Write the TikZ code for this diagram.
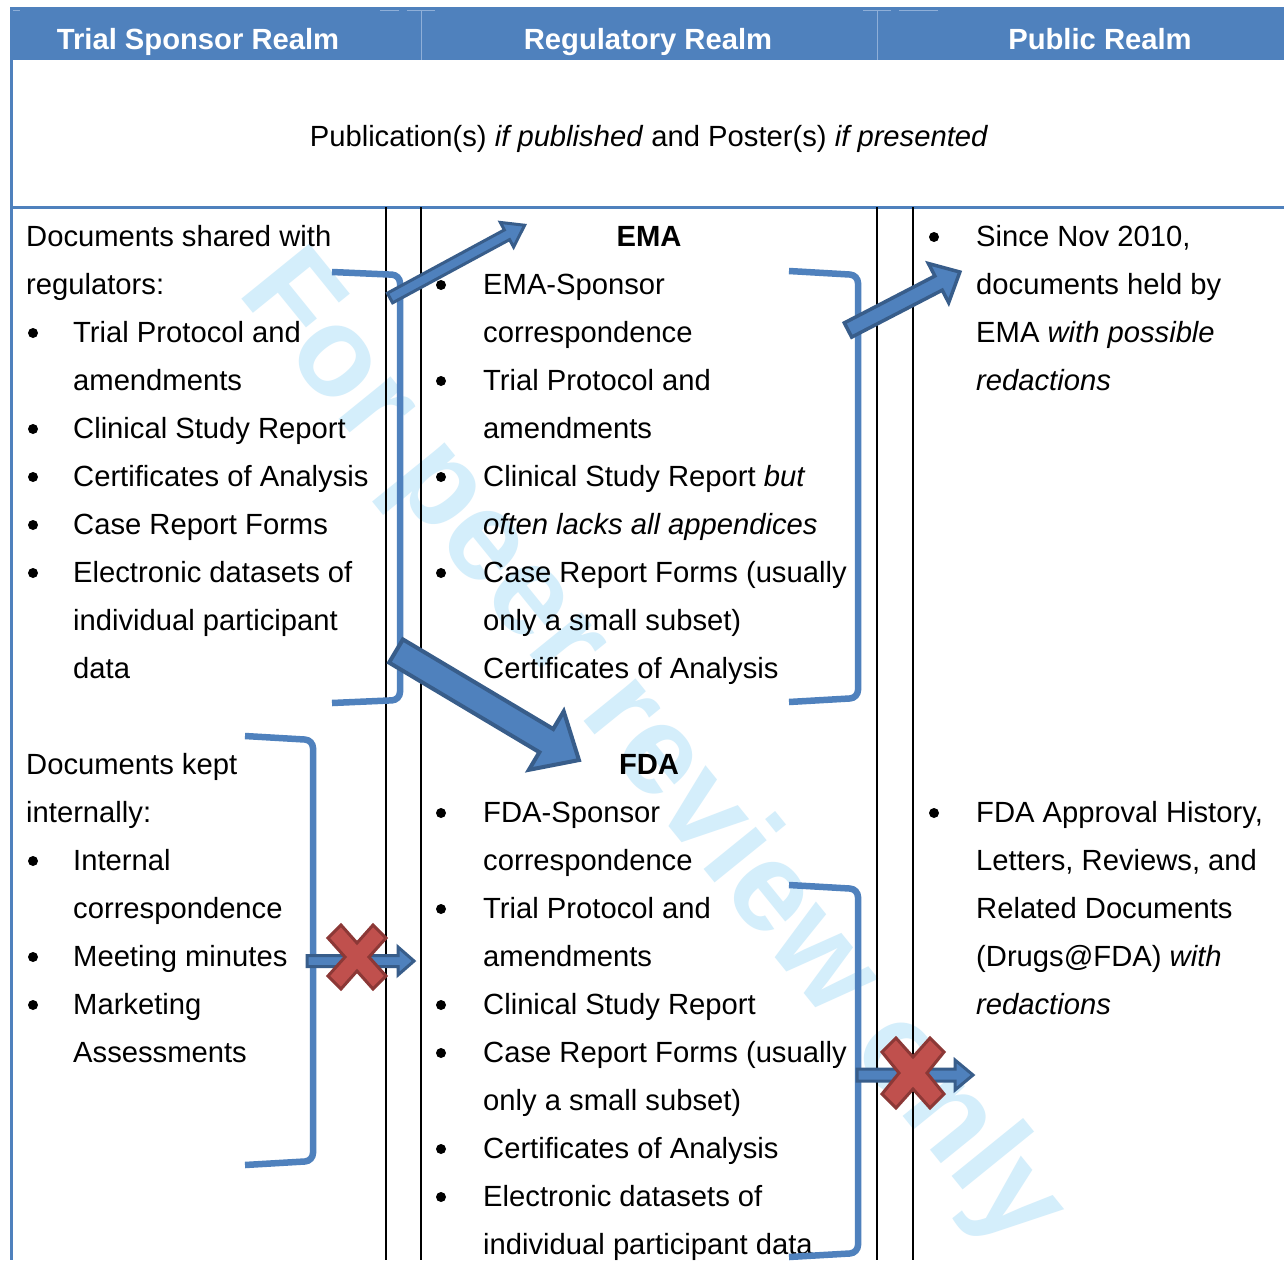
\documentclass[tikz,border=0pt]{standalone}
\usepackage{fontspec}
\setmainfont{Liberation Sans}
\definecolor{hdrblue}{HTML}{4F81BD}
\definecolor{arrowedge}{HTML}{385D8A}
\definecolor{xred}{HTML}{C0504D}
\definecolor{xedge}{HTML}{8C3836}
\definecolor{wmark}{RGB}{212,238,251}
\definecolor{faint}{HTML}{8FAFD8}
\begin{document}
\begin{tikzpicture}[x=1pt,y=-1pt,
  txt/.style={anchor=base west, inner sep=0pt, font=\fontsize{29.2}{35}\selectfont},
  ctxt/.style={anchor=base, inner sep=0pt, font=\fontsize{29.2}{35}\selectfont},
  btxt/.style={anchor=base, inner sep=0pt, font=\fontsize{29.2}{35}\selectfont\bfseries},
  hdr/.style={anchor=base, inner sep=0pt, text=white, font=\fontsize{29.2}{35}\selectfont\bfseries},
  bul/.style={fill=black, circle, inner sep=0pt, minimum size=10pt},
  brk/.style={draw=hdrblue, line width=6.5pt, rounded corners=8pt},
  barrow/.style={fill=hdrblue, draw=arrowedge, line width=3.5pt, line join=miter},
  xmark/.style={fill=xred, draw=xedge, line width=3pt, line join=miter},
  colline/.style={draw=black, line width=2pt},
  faintline/.style={draw=faint, line width=1pt}]
\useasboundingbox (0,0) rectangle (1284,1260);
\fill[white] (0,0) rectangle (1284,1260);
% watermark
\begin{scope}
\clip (0,0) rectangle (1284,1260);
\node[anchor=base west, inner sep=0pt, rotate=-51, text=wmark, font=\fontsize{127}{127}\selectfont\bfseries] (wm) at (236,292) {For peer review only};
\end{scope}
% header band
\fill[hdrblue] (10,7) rectangle (1284,60);
\draw[faintline] (421,11) -- (421,60) (877,11) -- (877,60);
\draw[faintline] (13,11) -- (20,11) (399,11) -- (380,11) (407,11) -- (435,11) (863,11) -- (891,11) (899,11) -- (938,11);
\node[hdr] (h1) at (198,50) {Trial Sponsor Realm};
\node[hdr] (h2) at (648,50) {Regulatory Realm};
\node[hdr] (h3) at (1100,50) {Public Realm};
% table borders
\draw[hdrblue, line width=3pt] (11.5,60) -- (11.5,1260);
\draw[hdrblue, line width=3pt] (10,207) -- (1284,207);
\draw[colline] (386,207) -- (386,1260) (421,207) -- (421,1260) (877,207) -- (877,1260) (913,207) -- (913,1260);
% publication row
\node[ctxt] (pub) at (649,147) {Publication(s) \textit{if published} and Poster(s) \textit{if presented}};
% left column - shared
\node[txt] (s1) at (26,246) {Documents shared with};
\node[txt] (s2) at (26,294) {regulators:};
\node[txt] (s3) at (73,342) {Trial Protocol and};
\node[txt] (s4) at (73,390) {amendments};
\node[txt] (s5) at (73,438) {Clinical Study Report};
\node[txt] (s6) at (73,486) {Certificates of Analysis};
\node[txt] (s7) at (73,534) {Case Report Forms};
\node[txt] (s8) at (73,582) {Electronic datasets of};
\node[txt] (s9) at (73,630) {individual participant};
\node[txt] (s10) at (73,678) {data};
\node[bul] (sb1) at (33,333) {};
\node[bul] (sb2) at (33,429) {};
\node[bul] (sb3) at (33,477) {};
\node[bul] (sb4) at (33,525) {};
\node[bul] (sb5) at (33,573) {};
% left column - internal
\node[txt] (k1) at (26,774) {Documents kept};
\node[txt] (k2) at (26,822) {internally:};
\node[txt] (k3) at (73,870) {Internal};
\node[txt] (k4) at (73,918) {correspondence};
\node[txt] (k5) at (73,966) {Meeting minutes};
\node[txt] (k6) at (73,1014) {Marketing};
\node[txt] (k7) at (73,1062) {Assessments};
\node[bul] (kb1) at (33,861) {};
\node[bul] (kb2) at (33,957) {};
\node[bul] (kb3) at (33,1005) {};
% middle - EMA
\node[btxt] (ema) at (649,246) {EMA};
\node[txt] (e1) at (483,294) {EMA-Sponsor};
\node[txt] (e2) at (483,342) {correspondence};
\node[txt] (e3) at (483,390) {Trial Protocol and};
\node[txt] (e4) at (483,438) {amendments};
\node[txt] (e5) at (483,486) {Clinical Study Report \textit{but}};
\node[txt] (e6) at (483,534) {\textit{often lacks all appendices}};
\node[txt] (e7) at (483,582) {Case Report Forms (usually};
\node[txt] (e8) at (483,630) {only a small subset)};
\node[txt] (e9) at (483,678) {Certificates of Analysis};
\node[bul] (eb1) at (441,285) {};
\node[bul] (eb2) at (441,381) {};
\node[bul] (eb3) at (441,477) {};
\node[bul] (eb4) at (441,573) {};
\node[bul] (eb5) at (441,669) {};
% middle - FDA
\node[btxt] (fda) at (649,774) {FDA};
\node[txt] (f1) at (483,822) {FDA-Sponsor};
\node[txt] (f2) at (483,870) {correspondence};
\node[txt] (f3) at (483,918) {Trial Protocol and};
\node[txt] (f4) at (483,966) {amendments};
\node[txt] (f5) at (483,1014) {Clinical Study Report};
\node[txt] (f6) at (483,1062) {Case Report Forms (usually};
\node[txt] (f7) at (483,1110) {only a small subset)};
\node[txt] (f8) at (483,1158) {Certificates of Analysis};
\node[txt] (f9) at (483,1206) {Electronic datasets of};
\node[txt] (f10) at (483,1254) {individual participant data};
\node[bul] (fb1) at (441,813) {};
\node[bul] (fb2) at (441,909) {};
\node[bul] (fb3) at (441,1005) {};
\node[bul] (fb4) at (441,1053) {};
\node[bul] (fb5) at (441,1149) {};
\node[bul] (fb6) at (441,1197) {};
% right column
\node[txt] (p1) at (976,246) {Since Nov 2010,};
\node[txt] (p2) at (976,294) {documents held by};
\node[txt] (p3) at (976,342) {EMA \textit{with possible}};
\node[txt] (p4) at (976,390) {\textit{redactions}};
\node[bul] (pb1) at (934,237) {};
\node[txt] (q1) at (976,822) {FDA Approval History,};
\node[txt] (q2) at (976,870) {Letters, Reviews, and};
\node[txt] (q3) at (976,918) {Related Documents};
\node[txt] (q4) at (976,966) {(Drugs@FDA) \textit{with}};
\node[txt] (q5) at (976,1014) {\textit{redactions}};
\node[bul] (qb1) at (934,813) {};
% brackets
\draw[brk] (332,272) -- (400,275) -- (400,700) -- (332,703);
\draw[brk] (245,736) -- (313,740) -- (313,1161) -- (245,1165);
\draw[brk] (789,271) -- (858,275) -- (858,698) -- (789,702);
\draw[brk] (789,885) -- (858,889) -- (858,1253) -- (789,1257);
% block arrows
\coordinate (ta) at (390,298);
\coordinate (tb) at (848,330);
\coordinate (tc) at (396,651);
\coordinate (td) at (307,961);
\coordinate (te) at (857,1075);
\draw[barrow, line width=3pt, shift={(ta)}, rotate=28.4] (0,-5.5) -- (133,-5.5) -- (133,-14) -- (153,0) -- (133,14) -- (133,5.5) -- (0,5.5) -- cycle;
\draw[barrow, shift={(tb)}, rotate=27.4] (0,-8) -- (102,-8) -- (102,-22) -- (126,0) -- (102,22) -- (102,8) -- (0,8) -- cycle;
\draw[barrow, line width=4pt, shift={(tc)}, rotate=-30.8] (0,-13.5) -- (175,-13.5) -- (175,-34) -- (213,0) -- (175,34) -- (175,13.5) -- (0,13.5) -- cycle;
\draw[barrow, line width=3pt, shift={(td)}] (0,-5.5) -- (91,-5.5) -- (91,-14) -- (107,0) -- (91,14) -- (91,5.5) -- (0,5.5) -- cycle;
\draw[barrow, line width=3pt, shift={(te)}] (0,-6) -- (98,-6) -- (98,-15) -- (116,0) -- (98,15) -- (98,6) -- (0,6) -- cycle;
% crosses
\coordinate (xa) at (357,957);
\coordinate (xb) at (913,1073);
\draw[xmark, shift={(xa)}] (-29,-19) -- (-16,-32) -- (0,-14) -- (16,-32) -- (29,-19) -- (12,0) -- (29,19) -- (16,32) -- (0,14) -- (-16,32) -- (-29,19) -- (-12,0) -- cycle;
\draw[xmark, shift={(xb)}] (-31,-21) -- (-17,-35) -- (0,-16) -- (17,-35) -- (31,-21) -- (14,0) -- (31,21) -- (17,35) -- (0,16) -- (-17,35) -- (-31,21) -- (-14,0) -- cycle;
\end{tikzpicture}
\end{document}
